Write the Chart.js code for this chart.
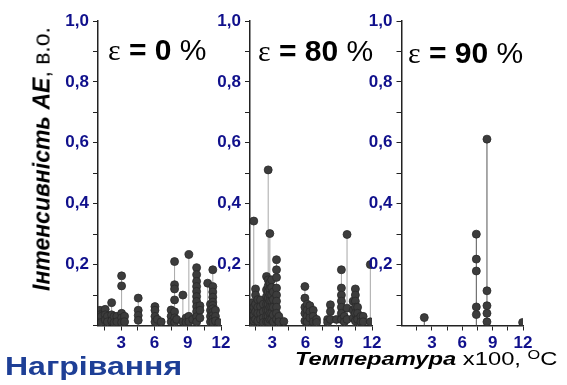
<!DOCTYPE html>
<html>
<head>
<meta charset="utf-8">
<script src="https://cdn.jsdelivr.net/npm/chart.js@4.4.1/dist/chart.umd.min.js"></script>
<style>
  body { margin: 0; background: #fff; }
  #wrap { position: relative; width: 567px; height: 385px; overflow: hidden; font-family: "Liberation Sans", Arial, sans-serif; }
  canvas { position: absolute; top: 0; }
  .lbl { position: absolute; white-space: nowrap; line-height: 1; }
  .eps { font-size: 30px; color: #000; }
  .eps .g { font-family: "Liberation Serif", serif; font-weight: normal; }
  .eps b { font-weight: bold; }
  #ytitle { left: 42px; top: 159px; font-size: 23px; transform: translate(-50%, -50%) rotate(-90deg); }
  #xtitle { left: 295px; top: 348px; font-size: 19px; transform: scaleX(1.25); transform-origin: left top; }
  #xtitle sup { font-size: 13px; vertical-align: 6px; }
  #heat { left: 5px; top: 354px; font-size: 25px; font-weight: bold; color: #1e3f96; transform: scaleX(1.28); transform-origin: left top; }
</style>
</head>
<body>
<div id="wrap">
  <canvas id="c0" width="240" height="385" style="left:0px"></canvas>
  <canvas id="c80" width="240" height="385" style="left:150px"></canvas>
  <canvas id="c90" width="250" height="385" style="left:300px"></canvas>

  <div class="lbl" id="ytitle"><b><i>Інтенсивність AE</i></b>, в.о.</div>
  <div class="lbl eps" style="left:108px;top:35px"><span class="g">ε</span> <b>= 0</b> %</div>
  <div class="lbl eps" style="left:258px;top:36px"><span class="g">ε</span> <b>= 80</b> %</div>
  <div class="lbl eps" style="left:408px;top:38px"><span class="g">ε</span> <b>= 90</b> %</div>
  <div class="lbl" id="xtitle"><b><i>Температура</i></b> x100, <sup>O</sup>C</div>
  <div class="lbl" id="heat">Нагрівання</div>
</div>

<script>
// ε = 0 %: температура (x100 °C) кожного стовпчика і амплітуди точок на ньому
const temp0 = [0.85, 1.08, 1.2, 1.55, 1.75, 2.13, 2.35, 2.6, 3.03, 3.3, 4.53, 6.04, 6.25, 6.6, 7.5, 7.81, 8.0, 8.56, 8.85, 9.1, 9.45, 9.8, 10.1, 10.8, 11.05, 11.26, 11.5, 11.8];
const ae0 = [
  [0.068, 0.045, 0.02],
  [0.05, 0.035, 0.018],
  [0.03, 0.01],
  [0.053, 0.035, 0.018],
  [0.03, 0.012],
  [0.075, 0.035, 0.015],
  [0.03, 0.01],
  [0.03, 0.012],
  [0.163, 0.13, 0.04, 0.025, 0.01],
  [0.03, 0.012],
  [0.09, 0.05, 0.033, 0.017],
  [0.062, 0.05, 0.03, 0.012],
  [0.02],
  [0.012],
  [0.051, 0.03, 0.012],
  [0.21, 0.134, 0.12, 0.084, 0.045, 0.025, 0.01],
  [0.02],
  [0.1, 0.012],
  [0.025, 0.01],
  [0.233, 0.03, 0.012],
  [0.02],
  [0.19, 0.167, 0.145, 0.128, 0.112, 0.095, 0.079, 0.062, 0.046, 0.029, 0.012],
  [0.065, 0.05, 0.025],
  [0.139],
  [0.07, 0.05, 0.03, 0.012],
  [0.183, 0.128, 0.11, 0.093, 0.077, 0.066, 0.055, 0.044, 0.033, 0.022, 0.011],
  [0.05, 0.03, 0.015],
  [0.01]
];

// ε = 80 %
const temp80 = [1.0, 1.2, 1.34, 1.5, 1.7, 1.95, 2.2, 2.49, 2.64, 2.79, 2.95, 3.1, 3.39, 3.6, 4.05, 5.95, 6.15, 6.4, 6.7, 7.0, 8.0, 8.25, 8.8, 9.24, 9.5, 9.75, 10.3, 10.5, 10.7, 11.0, 11.2, 11.85];
const ae80 = [
  [0.07, 0.045, 0.02],
  [0.075, 0.05, 0.03, 0.01],
  [0.343, 0.06, 0.035, 0.015],
  [0.12, 0.1, 0.07, 0.045, 0.02],
  [0.085, 0.06, 0.04, 0.015],
  [0.084, 0.062, 0.04, 0.02],
  [0.07, 0.045, 0.025, 0.01],
  [0.161, 0.117, 0.095, 0.07, 0.05, 0.03, 0.012],
  [0.511, 0.15, 0.13, 0.11, 0.09, 0.07, 0.05, 0.03, 0.012],
  [0.302, 0.14, 0.12, 0.1, 0.08, 0.06, 0.04, 0.02],
  [0.15, 0.125, 0.1, 0.08, 0.06, 0.04, 0.02],
  [0.11, 0.085, 0.06, 0.035, 0.012],
  [0.216, 0.183, 0.158, 0.123, 0.1, 0.08, 0.06, 0.04, 0.02],
  [0.03, 0.012],
  [0.013],
  [0.128, 0.09, 0.06, 0.04, 0.015],
  [0.07, 0.05, 0.03, 0.012],
  [0.065, 0.045, 0.025],
  [0.05, 0.03, 0.012],
  [0.02, 0.01],
  [0.02, 0.01],
  [0.068, 0.046, 0.02],
  [0.02],
  [0.183, 0.123, 0.1, 0.08, 0.06, 0.04, 0.02],
  [0.03, 0.012],
  [0.299, 0.057, 0.02],
  [0.08, 0.05, 0.025],
  [0.12, 0.1, 0.08, 0.06, 0.04, 0.015],
  [0.06, 0.04, 0.02],
  [0.03, 0.012],
  [0.03, 0.012],
  [0.2, 0.012]
];

// ε = 90 %
const temp90 = [2.25, 7.39, 8.44, 11.96];
const ae90 = [
  [0.026],
  [0.30, 0.218, 0.179, 0.061, 0.036],
  [0.612, 0.114, 0.065, 0.04, 0.012],
  [0.01]
];

const xTicks = [1.5, 3, 4.5, 6, 7.5, 9, 10.5, 12];
const yTicks = [0, 0.1, 0.2, 0.3, 0.4, 0.5, 0.6, 0.7, 0.8, 0.9, 1.0];

const FONT = '"Liberation Sans", Arial, sans-serif';
const TICK_COLOR = '#10108c';
const AXIS_COLOR = '#222';

function makePanel(id, temps, aes, xMin, yWidth, padRight, stemColor) {
  const dots = [];
  const stems = [];
  temps.forEach((t, i) => {
    aes[i].forEach(v => dots.push({ x: t, y: v }));
    stems.push({ x: t, y: 0 }, { x: t, y: Math.max(...aes[i]) }, { x: t, y: null });
  });

  new Chart(document.getElementById(id), {
    type: 'scatter',
    data: {
      datasets: [
        {
          data: dots,
          pointRadius: 4,
          pointBackgroundColor: '#3c3c3c',
          pointBorderColor: '#2a2a2a',
          pointBorderWidth: 0.8,
          showLine: false,
          clip: 0
        },
        {
          data: stems,
          showLine: true,
          spanGaps: false,
          pointRadius: 0,
          borderColor: stemColor,
          borderWidth: 1
        }
      ]
    },
    options: {
      responsive: false,
      animation: false,
      devicePixelRatio: 1,
      layout: { padding: { top: 21, right: padRight, bottom: 0, left: 0 } },
      plugins: { legend: { display: false }, tooltip: { enabled: false } },
      scales: {
        x: {
          type: 'linear',
          min: xMin,
          max: 12,
          afterBuildTicks: s => { s.ticks = xTicks.map(v => ({ value: v })); },
          afterFit: s => { s.height = 385 - 325.5; },
          grid: { drawOnChartArea: false, tickLength: 5, color: AXIS_COLOR },
          border: { color: AXIS_COLOR, width: 1.5 },
          ticks: {
            autoSkip: false, maxRotation: 0, padding: 3,
            color: TICK_COLOR, font: { family: FONT, size: 17, weight: 'bold' },
            callback: v => (v % 3 === 0 ? v : '')
          }
        },
        y: {
          min: 0,
          max: 1,
          afterBuildTicks: s => { s.ticks = yTicks.map(v => ({ value: v })); },
          afterFit: s => { s.width = yWidth; },
          grid: { drawOnChartArea: false, tickLength: 5, color: AXIS_COLOR },
          border: { color: AXIS_COLOR, width: 1.5 },
          ticks: {
            autoSkip: false, padding: 4,
            color: TICK_COLOR, font: { family: FONT, size: 17, weight: 'bold' },
            callback: v => {
              const k = Math.round(v * 10);
              return (k > 0 && k % 2 === 0) ? (k / 10).toFixed(1).replace('.', ',') : '';
            }
          }
        }
      }
    }
  });
}

makePanel('c0', temp0, ae0, 0.9, 98, 19, '#a8a8a8');
makePanel('c80', temp80, ae80, 1.0, 100, 18, '#a8a8a8');
makePanel('c90', temp90, ae90, 0, 101.5, 27, '#555');
</script>
</body>
</html>
